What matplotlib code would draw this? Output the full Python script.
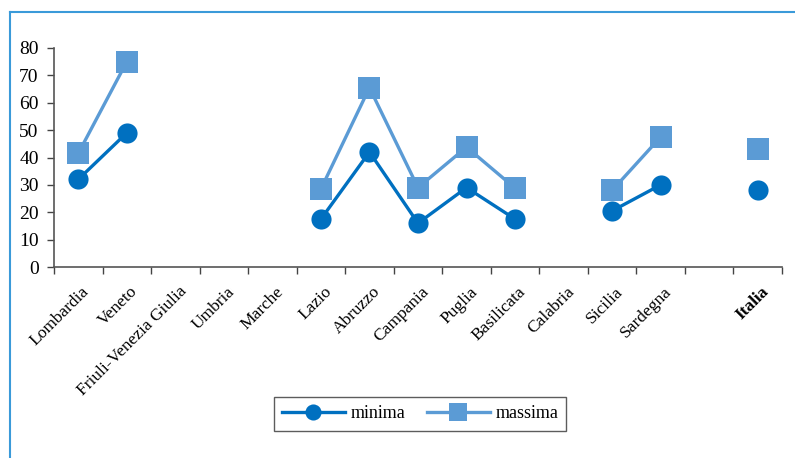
import numpy as np
import matplotlib
matplotlib.use("Agg")
import matplotlib.pyplot as plt
import matplotlib.transforms as mtransforms
from matplotlib.lines import Line2D

# ── Data ─────────────────────────────────────────────────────────────
REGIONI = ["Lombardia", "Veneto", "Friuli-Venezia Giulia", "Umbria", "Marche",
           "Lazio", "Abruzzo", "Campania", "Puglia", "Basilicata", "Calabria",
           "Sicilia", "Sardegna", "", "Italia"]
MINIMA  = [32, 49, np.nan, np.nan, np.nan, 17.5, 42, 16, 29, 17.5, np.nan,
           20.5, 30, np.nan, 28]
MASSIMA = [41.5, 75, np.nan, np.nan, np.nan, 28.5, 65.5, 29, 43.8, 28.8, np.nan,
           28, 47.5, np.nan, 43.2]
YTICKS  = [0, 10, 20, 30, 40, 50, 60, 70, 80]

COL_MIN = "#0070C0"
COL_MAX = "#5B9BD5"
FRAME   = "#3A9AD9"

plt.rcParams["font.family"] = ["Liberation Serif", "DejaVu Serif"]

fig = plt.figure(figsize=(7.95, 4.58), dpi=100)
ax = fig.add_axes([54 / 795, 1 - 267 / 458, 728 / 795, 219 / 458])

x = np.arange(len(REGIONI))
ax.plot(x, MINIMA, "-o", color=COL_MIN, linewidth=2.4, markersize=14.5,
        markeredgewidth=0, label="minima", zorder=4)
ax.plot(x, MASSIMA, "-s", color=COL_MAX, linewidth=2.4, markersize=16,
        markeredgewidth=0, label="massima", zorder=3)

ax.set_xlim(-0.5, len(REGIONI) - 0.5)
ax.set_ylim(0, 80)
ax.set_yticks(YTICKS)
ax.tick_params(axis="y", labelsize=14, length=5, width=1, color="#444",
               direction="out", pad=6)

# tick marks between categories, labels at centres
ax.set_xticks(x)
ax.set_xticklabels(REGIONI, rotation=45, ha="right", va="top",
                   rotation_mode="anchor", fontsize=12.5)
ax.set_xticks(np.arange(-0.5, len(REGIONI)), minor=True)
ax.tick_params(axis="x", which="major", length=0, pad=12)
ax.tick_params(axis="x", which="minor", length=5, width=1, color="#444",
               direction="out")
offset = mtransforms.ScaledTranslation(3 / 100, 0, fig.dpi_scale_trans)
for lab in ax.get_xticklabels():
    lab.set_transform(lab.get_transform() + offset)
    if lab.get_text() == "Italia":
        lab.set_fontweight("bold")

for s in ["top", "right"]:
    ax.spines[s].set_visible(False)
for s in ["left", "bottom"]:
    ax.spines[s].set_color("#555")
    ax.spines[s].set_linewidth(1.2)

leg = ax.legend(loc="center", bbox_to_anchor=(420 / 795, 1 - 414 / 458),
                bbox_transform=fig.transFigure, ncol=2, fontsize=13,
                frameon=True, fancybox=False, edgecolor="#333",
                handlelength=3.5, handletextpad=0.3, columnspacing=1.2,
                borderpad=0.45, markerscale=0.8)
leg.get_frame().set_linewidth(1.0)

# blue frame round the figure (left and top)
fig.add_artist(Line2D([10 / 795, 10 / 795], [0, 1 - 12 / 458],
                      color=FRAME, linewidth=1.5, transform=fig.transFigure))
fig.add_artist(Line2D([10 / 795, 1], [1 - 12 / 458, 1 - 12 / 458],
                      color=FRAME, linewidth=1.5, transform=fig.transFigure))

fig.savefig("out.png", dpi=100, facecolor="white")
